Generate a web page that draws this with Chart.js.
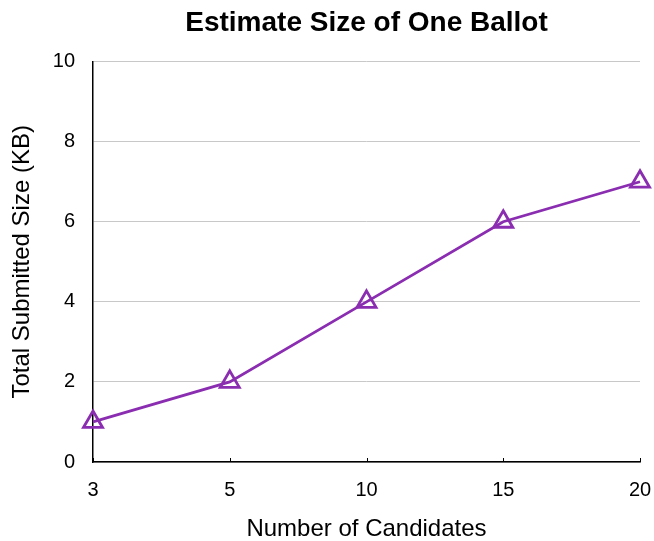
<!DOCTYPE html>
<html>
<head>
<meta charset="utf-8">
<script src="https://cdn.jsdelivr.net/npm/chart.js@4/dist/chart.umd.min.js"></script>
<style>
  html, body { margin: 0; padding: 0; background: #fff; }
  #wrap { width: 654px; height: 541px; position: relative; }
</style>
</head>
<body>
<div id="wrap"><canvas id="c"></canvas></div>
<script>
const candidates = ["3", "5", "10", "15", "20"];
const sizeKB = [1, 2, 4, 6, 7];
const yTicks = [0, 2, 4, 6, 8, 10];

const FONT = "'Liberation Sans', Arial, Helvetica, sans-serif";

const innerTicks = {
  id: 'innerTicks',
  afterDatasetsDraw(chart) {
    const xs = chart.scales.x;
    const ctx = chart.ctx;
    const bottom = chart.chartArea.bottom;
    ctx.save();
    ctx.strokeStyle = '#000';
    ctx.lineWidth = 1;
    for (let i = 0; i < candidates.length; i++) {
      const px = Math.round(xs.getPixelForValue(i)) + 0.5;
      ctx.beginPath();
      ctx.moveTo(px, bottom);
      ctx.lineTo(px, bottom - 4);
      ctx.stroke();
    }
    ctx.restore();
  }
};

new Chart(document.getElementById('c'), {
  type: 'line',
  data: {
    labels: candidates,
    datasets: [{
      data: sizeKB,
      borderColor: '#8a2db0',
      backgroundColor: 'rgba(0,0,0,0)',
      borderWidth: 2.8,
      pointStyle: 'triangle',
      pointRadius: 11,
      pointBorderWidth: 2.8,
      pointBackgroundColor: 'rgba(255,255,255,0)',
      pointBorderColor: '#8a2db0',
      tension: 0,
      clip: false
    }]
  },
  options: {
    responsive: true,
    maintainAspectRatio: false,
    animation: false,
    layout: { padding: { left: 0, right: 14, top: 6, bottom: 0 } },
    plugins: {
      legend: { display: false },
      tooltip: { enabled: false },
      title: {
        display: true,
        fullSize: false,
        text: 'Estimate Size of One Ballot',
        color: '#000',
        font: { family: FONT, size: 28, weight: 'bold' },
        padding: { top: 0, bottom: 22 }
      }
    },
    scales: {
      x: {
        type: 'category',
        offset: false,
        afterFit(scale) { scale.height = 79; scale.paddingRight = 0; scale.paddingLeft = 0; },
        grid: { display: true, drawOnChartArea: false, drawTicks: false },
        border: { display: true, color: '#000', width: 1.5 },
        ticks: {
          color: '#000',
          padding: 16,
          maxRotation: 0,
          font: { family: FONT, size: 20 }
        },
        title: {
          display: true,
          text: 'Number of Candidates',
          color: '#000',
          font: { family: FONT, size: 24 },
          padding: { top: 0, bottom: -3 }
        }
      },
      y: {
        min: 0,
        max: 10,
        afterFit(scale) { scale.width = 93; },
        afterBuildTicks(axis) { axis.ticks = yTicks.map(v => ({ value: v })); },
        grid: { color: '#c8c8c8', lineWidth: 1, drawTicks: false },
        border: { display: true, color: '#000', width: 1.5 },
        ticks: {
          color: '#000',
          padding: 18,
          font: { family: FONT, size: 20 }
        },
        title: {
          display: true,
          text: 'Total Submitted Size (KB)',
          color: '#000',
          font: { family: FONT, size: 24 },
          padding: { top: 8, bottom: 0 }
        }
      }
    }
  },
  plugins: [innerTicks]
});
</script>
</body>
</html>
